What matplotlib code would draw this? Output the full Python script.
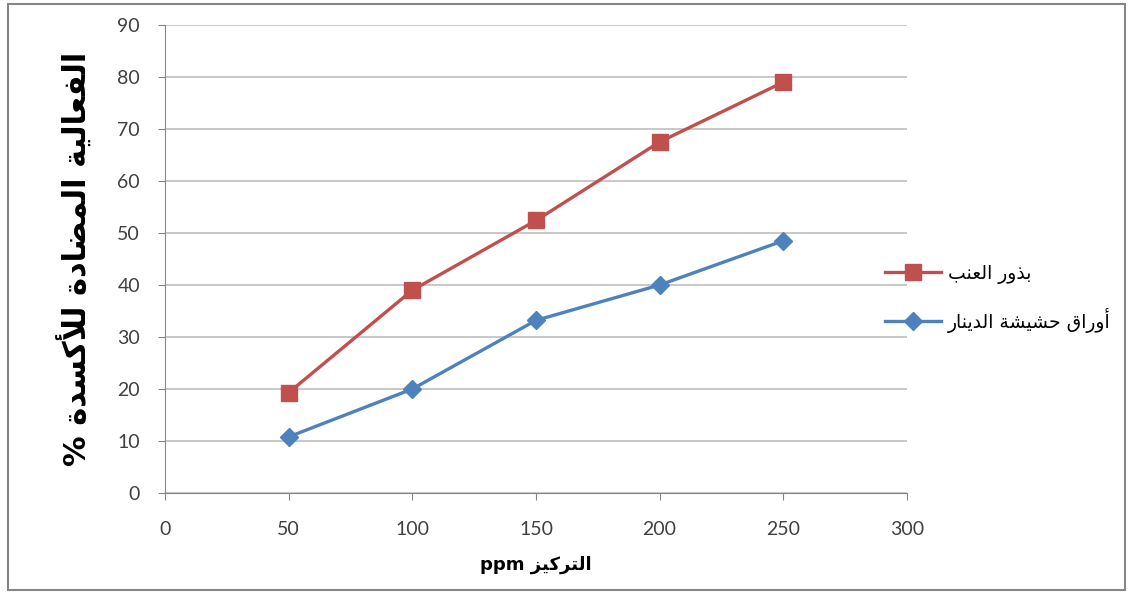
import matplotlib.pyplot as plt
from matplotlib.patches import Rectangle

# data
concentration = [50, 100, 150, 200, 250]
grape_seeds = [19.3, 39.0, 52.4, 67.5, 79.0]
mint_leaves = [10.8, 20.0, 33.2, 40.0, 48.5]
series_names = ['بذور العنب', 'أوراق حشيشة الدينار']
x_label = 'التركيز ppm'
y_label = 'الفعالية المضادة للأكسدة %'

# minimal arabic shaping (matplotlib draws text left to right, no joining)
FORMS = {
    'ا': ('\uFE8D', '\uFE8E', None, None),
    'أ': ('\uFE83', '\uFE84', None, None),
    'ب': ('\uFE8F', '\uFE90', '\uFE91', '\uFE92'),
    'ة': ('\uFE93', '\uFE94', None, None),
    'ت': ('\uFE95', '\uFE96', '\uFE97', '\uFE98'),
    'ح': ('\uFEA1', '\uFEA2', '\uFEA3', '\uFEA4'),
    'د': ('\uFEA9', '\uFEAA', None, None),
    'ذ': ('\uFEAB', '\uFEAC', None, None),
    'ر': ('\uFEAD', '\uFEAE', None, None),
    'ز': ('\uFEAF', '\uFEB0', None, None),
    'س': ('\uFEB1', '\uFEB2', '\uFEB3', '\uFEB4'),
    'ش': ('\uFEB5', '\uFEB6', '\uFEB7', '\uFEB8'),
    'ض': ('\uFEBD', '\uFEBE', '\uFEBF', '\uFEC0'),
    'ع': ('\uFEC9', '\uFECA', '\uFECB', '\uFECC'),
    'ف': ('\uFED1', '\uFED2', '\uFED3', '\uFED4'),
    'ق': ('\uFED5', '\uFED6', '\uFED7', '\uFED8'),
    'ك': ('\uFED9', '\uFEDA', '\uFEDB', '\uFEDC'),
    'ل': ('\uFEDD', '\uFEDE', '\uFEDF', '\uFEE0'),
    'م': ('\uFEE1', '\uFEE2', '\uFEE3', '\uFEE4'),
    'ن': ('\uFEE5', '\uFEE6', '\uFEE7', '\uFEE8'),
    'و': ('\uFEED', '\uFEEE', None, None),
    'ي': ('\uFEF1', '\uFEF2', '\uFEF3', '\uFEF4'),
}
LAMALEF = {'ا': ('\uFEFB', '\uFEFC'), 'أ': ('\uFEF7', '\uFEF8')}


def shape_word(w):
    items = []
    i = 0
    while i < len(w):
        if w[i] == 'ل' and i + 1 < len(w) and w[i + 1] in LAMALEF:
            items.append(('la', w[i + 1]))
            i += 2
        else:
            items.append(('c', w[i]))
            i += 1
    out = []
    for k, (kind, c) in enumerate(items):
        prev = items[k - 1] if k > 0 else None
        nxt = items[k + 1] if k + 1 < len(items) else None
        join_prev = prev is not None and prev[0] == 'c' and prev[1] in FORMS and FORMS[prev[1]][2] is not None
        if kind == 'la':
            out.append(LAMALEF[c][1] if join_prev else LAMALEF[c][0])
            continue
        if c not in FORMS:
            out.append(c)
            continue
        f = FORMS[c]
        join_next = f[2] is not None and nxt is not None and (nxt[0] == 'la' or nxt[1] in FORMS)
        if join_prev and join_next:
            out.append(f[3])
        elif join_prev:
            out.append(f[1])
        elif join_next:
            out.append(f[2])
        else:
            out.append(f[0])
    return ''.join(out)


def ar(text):
    words = []
    for w in text.split(' '):
        if any(ch in FORMS for ch in w):
            words.append(shape_word(w)[::-1])
        else:
            words.append(w)
    return ' '.join(words[::-1])


fig = plt.figure(figsize=(11.31, 5.94), dpi=100)
ax = fig.add_axes([0.1459, 0.170, 0.656, 0.788])

ax.plot(concentration, grape_seeds, color='#C0504D', lw=2.4, marker='s',
        markersize=11, label=ar(series_names[0]))
ax.plot(concentration, mint_leaves, color='#4F81BD', lw=2.4, marker='D',
        markersize=9, label=ar(series_names[1]))

ax.set_xlim(0, 300)
ax.set_ylim(0, 90)
ax.set_xticks(range(0, 301, 50))
ax.set_yticks(range(0, 91, 10))
ax.grid(axis='y', color='#BFBFBF', lw=1.2)
ax.set_axisbelow(True)
for s in ['top', 'right']:
    ax.spines[s].set_visible(False)
for s in ['left', 'bottom']:
    ax.spines[s].set_color('#868686')
ax.tick_params(colors='#868686', labelcolor='#404040', labelsize=14, length=5)
for lab in ax.get_xticklabels() + ax.get_yticklabels():
    lab.set_family('Lato')
ax.tick_params(axis='x', pad=15)
ax.tick_params(axis='y', pad=13)

ax.set_xlabel(ar(x_label), fontsize=13, fontweight='bold', family='DejaVu Sans', labelpad=13)
ax.set_ylabel(ar(y_label), fontsize=22, fontweight='bold', family='DejaVu Sans', labelpad=18)

ax.legend(loc='upper left', bbox_to_anchor=(0.774, 0.572), bbox_transform=fig.transFigure,
          frameon=False, fontsize=13.5, handlelength=3.0, labelspacing=1.3,
          handletextpad=0.35, borderpad=0)

fig.add_artist(Rectangle((0.007, 0.006), 0.988, 0.988, transform=fig.transFigure,
                         fill=False, edgecolor='#868686', lw=1.5))

fig.savefig('out.png', dpi=100)
